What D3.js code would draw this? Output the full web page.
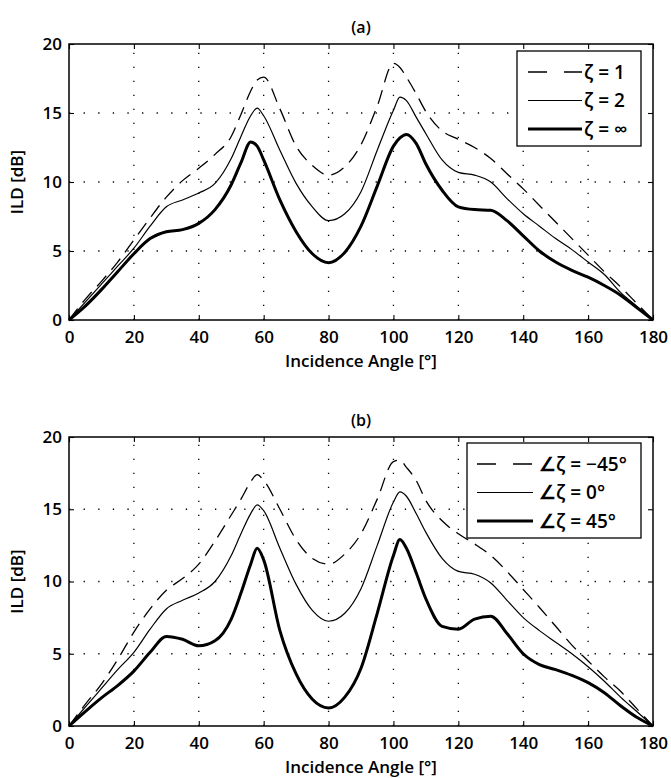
<!DOCTYPE html>
<html>
<head>
<meta charset="utf-8">
<script src="https://cdn.jsdelivr.net/npm/d3@7"></script>
<style>
  body { margin: 0; background: #fff; }
  svg text { font-family: "Open Sans", sans-serif; font-weight: 600; fill: #000; }
</style>
</head>
<body>
<div id="grafico"></div>
<script>
// Datos (angulo de incidencia en grados, ILD en dB)
const angulos = [0, 5, 10, 15, 20, 25, 30, 35, 40, 45, 50, 53, 56, 58, 60, 65, 70, 75, 80, 85, 90,
                 95, 100, 102, 104, 107, 110, 115, 120, 125, 130, 135, 140, 145, 150, 155, 160, 165, 170, 175, 180];

// (a) zeta = 1, 2, infinito
const aZeta1   = [0, 1.5, 2.8, 4.2, 5.8, 7.4, 8.9, 10.1, 11.0, 12.0, 13.3, 14.9, 16.6, 17.4, 17.6, 15.3, 12.6, 11.2, 10.5, 11.1, 12.7,
                  15.5, 18.6, 18.3, 17.6, 16.4, 15.1, 13.7, 13.1, 12.5, 11.7, 10.6, 9.5, 8.3, 7.1, 5.9, 4.7, 3.5, 2.4, 1.2, 0];
const aZeta2   = [0, 1.3, 2.6, 3.9, 5.2, 6.8, 8.2, 8.7, 9.2, 9.9, 11.7, 13.3, 14.8, 15.35, 14.8, 12.3, 9.9, 8.2, 7.2, 7.7, 9.3,
                  12.3, 15.2, 16.15, 15.9, 14.7, 13.5, 11.6, 10.7, 10.5, 10.0, 8.8, 7.7, 6.8, 5.9, 5.1, 4.2, 3.3, 2.0, 1.0, 0];
const aZetaInf = [0, 1.0, 2.2, 3.5, 4.8, 5.9, 6.4, 6.55, 7.0, 8.0, 9.8, 11.4, 12.9, 12.6, 11.6, 8.7, 6.4, 4.8, 4.15, 4.9, 6.8,
                  9.7, 12.6, 13.2, 13.45, 12.8, 11.3, 9.4, 8.2, 8.0, 7.95, 7.2, 6.1, 5.0, 4.2, 3.6, 3.1, 2.5, 1.8, 0.9, 0];

// (b) fase de zeta = -45, 0, 45 grados
const bMenos45 = [0, 1.5, 2.9, 4.6, 6.5, 8.1, 9.4, 10.2, 11.2, 12.8, 14.6, 15.7, 16.9, 17.4, 17.0, 15.0, 12.9, 11.6, 11.2, 11.9, 13.3,
                  15.7, 18.3, 18.4, 17.9, 17.0, 15.6, 14.2, 13.3, 12.6, 11.8, 10.7, 9.45, 8.2, 6.9, 5.6, 4.5, 3.4, 2.4, 1.2, 0];
const bCero    = [0, 1.3, 2.6, 3.9, 5.1, 6.7, 8.1, 8.7, 9.2, 10.0, 11.8, 13.3, 14.7, 15.3, 14.9, 12.3, 9.8, 8.0, 7.25, 7.8, 9.5,
                  12.5, 15.5, 16.2, 15.9, 14.7, 13.4, 11.6, 10.7, 10.5, 9.9, 8.7, 7.5, 6.6, 5.8, 5.0, 4.1, 3.1, 2.0, 1.0, 0];
const bMas45   = [0, 1.0, 1.95, 2.8, 3.8, 5.1, 6.2, 6.0, 5.55, 5.9, 7.4, 9.2, 11.2, 12.3, 11.5, 6.6, 3.6, 1.85, 1.25, 2.0, 4.0,
                  7.8, 11.8, 12.9, 12.3, 10.6, 8.8, 6.9, 6.7, 7.4, 7.6, 6.4, 5.0, 4.25, 3.9, 3.5, 3.0, 2.3, 1.4, 0.6, 0];

const xTicks = [0, 20, 40, 60, 80, 100, 120, 140, 160, 180];
const yTicks = [0, 5, 10, 15, 20];
const leyendaA = ["ζ = 1", "ζ = 2", "ζ = ∞"];
const leyendaB = ["∠ζ = −45°", "∠ζ = 0°", "∠ζ = 45°"];

// Estilos de las tres curvas (discontinua, fina, gruesa)
const estilos = [
  {width: 1.3, dash: "14,8", dashLey: "19,17"},
  {width: 1.2, dash: null, dashLey: null},
  {width: 3.0, dash: null, dashLey: null}
];

const svg = d3.select("#grafico")
  .append("svg")
  .attr("width", 671)
  .attr("height", 778);

function panel(cfg) {
  const x = d3.scaleLinear().domain([0, 180]).range([69, 653]);
  const y = d3.scaleLinear().domain([0, 20]).range([cfg.bottom, cfg.top]);
  const g = svg.append("g");

  // rejilla punteada
  g.append("g").selectAll("line")
    .data(xTicks.slice(1, -1))
    .join("line")
    .attr("x1", d => x(d)).attr("x2", d => x(d))
    .attr("y1", y(0)).attr("y2", y(20))
    .attr("stroke", "#000").attr("stroke-width", 1.3)
    .attr("stroke-dasharray", "1.3,12.7");
  g.append("g").selectAll("line")
    .data(yTicks.slice(1, -1))
    .join("line")
    .attr("x1", x(0)).attr("x2", x(180))
    .attr("y1", d => y(d)).attr("y2", d => y(d))
    .attr("stroke", "#000").attr("stroke-width", 1.3)
    .attr("stroke-dasharray", "1.3,13.3");

  // curvas
  const linea = d3.line()
    .x((d, i) => x(angulos[i]))
    .y(d => y(d))
    .curve(d3.curveMonotoneX);

  cfg.series.forEach((s, k) => {
    g.append("path")
      .attr("d", linea(s))
      .attr("fill", "none")
      .attr("stroke", "#000")
      .attr("stroke-width", estilos[k].width)
      .attr("stroke-dasharray", estilos[k].dash)
      .attr("stroke-linejoin", "round");
  });

  // ejes con marcas hacia dentro en los cuatro lados
  const quitarDominio = sel => sel.select(".domain").remove();
  g.append("g")
    .attr("transform", `translate(0,${y(0)})`)
    .call(d3.axisBottom(x).tickValues(xTicks).tickSize(-5).tickPadding(11))
    .call(quitarDominio)
    .call(a => a.selectAll("text").attr("font-size", 17).attr("font-family", null));
  g.append("g")
    .attr("transform", `translate(0,${y(20)})`)
    .call(d3.axisTop(x).tickValues(xTicks).tickSize(-5).tickFormat(""))
    .call(quitarDominio);
  g.append("g")
    .attr("transform", `translate(${x(0)},0)`)
    .call(d3.axisLeft(y).tickValues(yTicks).tickSize(-5).tickPadding(7))
    .call(quitarDominio)
    .call(a => a.selectAll("text").attr("font-size", 17).attr("font-family", null));
  g.append("g")
    .attr("transform", `translate(${x(180)},0)`)
    .call(d3.axisRight(y).tickValues(yTicks).tickSize(-5).tickFormat(""))
    .call(quitarDominio);
  g.selectAll(".tick line").attr("stroke", "#000").attr("stroke-width", 1.1);

  g.append("rect")
    .attr("x", x(0)).attr("y", y(20))
    .attr("width", x(180) - x(0)).attr("height", y(0) - y(20))
    .attr("fill", "none").attr("stroke", "#000").attr("stroke-width", 1.5);

  // titulos
  g.append("text")
    .attr("x", (x(0) + x(180)) / 2).attr("y", y(20) - 11)
    .attr("text-anchor", "middle").attr("font-size", 16)
    .text(cfg.title);
  g.append("text")
    .attr("x", (x(0) + x(180)) / 2).attr("y", y(0) + 47)
    .attr("text-anchor", "middle").attr("font-size", 17)
    .text("Incidence Angle [°]");
  g.append("text")
    .attr("transform", `translate(23,${(y(0) + y(20)) / 2}) rotate(-90)`)
    .attr("text-anchor", "middle").attr("font-size", 17)
    .text("ILD [dB]");

  // leyenda
  const L = cfg.legend;
  const ley = g.append("g");
  ley.append("rect")
    .attr("x", L.x).attr("y", L.y).attr("width", L.w).attr("height", L.h)
    .attr("fill", "#fff").attr("stroke", "#000").attr("stroke-width", 1.3);
  cfg.labels.forEach((t, k) => {
    const cy = L.y + 21 + k * 28.5;
    ley.append("line")
      .attr("x1", L.x1).attr("x2", L.x2).attr("y1", cy).attr("y2", cy)
      .attr("stroke", "#000")
      .attr("stroke-width", estilos[k].width)
      .attr("stroke-dasharray", estilos[k].dashLey);
    ley.append("text")
      .attr("x", L.tx).attr("y", cy).attr("dy", "0.35em")
      .attr("font-size", 19)
      .text(t);
  });
}

panel({
  top: 44, bottom: 320, title: "(a)",
  series: [aZeta1, aZeta2, aZetaInf], labels: leyendaA,
  legend: {x: 517, y: 51, w: 124, h: 95, x1: 528, x2: 582, tx: 584}
});
panel({
  top: 437, bottom: 726, title: "(b)",
  series: [bMenos45, bCero, bMas45], labels: leyendaB,
  legend: {x: 467, y: 443, w: 174, h: 95, x1: 477, x2: 533, tx: 539}
});
</script>
</body>
</html>
